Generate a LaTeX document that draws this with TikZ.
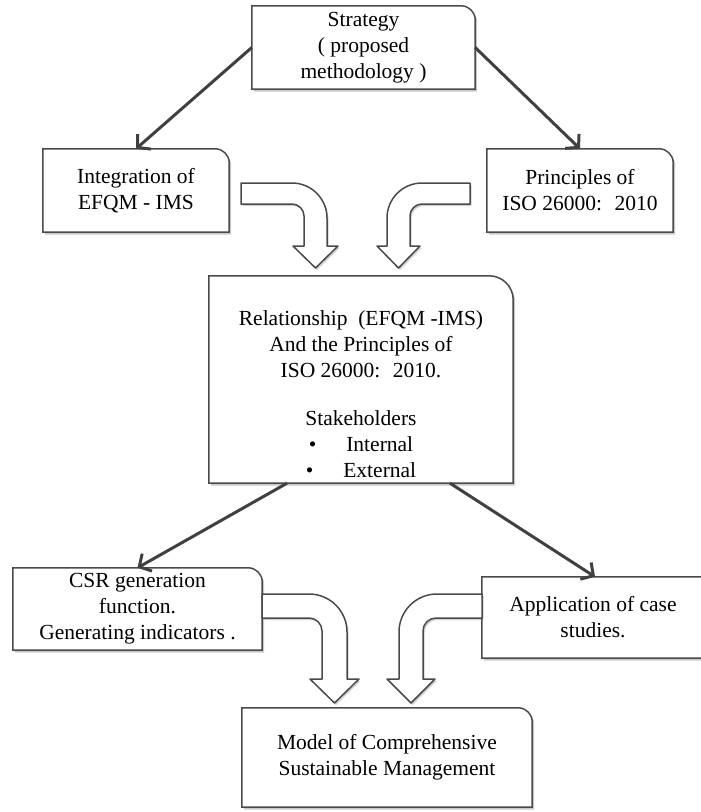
\documentclass[tikz,border=0pt]{standalone}
\usepackage{fontspec}
\setmainfont{Liberation Serif}
\usetikzlibrary{arrows.meta,shadows,backgrounds,calc}

\definecolor{linegray}{HTML}{404040}
\definecolor{edgegray}{HTML}{4A4A4A}

\tikzset{
  box/.style={inner sep=0pt, align=center, font=\fontsize{21.5}{26}\selectfont},
  boxline/.style={draw=edgegray, line width=1.5pt, fill=white,
    drop shadow={shadow xshift=2pt, shadow yshift=-2.5pt, opacity=0.35, fill=black!60}},
  flow/.style={draw=linegray, line width=3pt, -{Straight Barb[length=9pt,width=20pt]}},
  bendarrow/.style={draw=edgegray, line width=1.5pt, fill=white, line join=round,
    drop shadow={shadow xshift=1.5pt, shadow yshift=-2pt, opacity=0.3, fill=black!60}}
}

% outline with one rounded corner (top right)
\newcommand{\cornerbox}[2][14pt]{%
  \begin{pgfonlayer}{background}
  \draw[boxline] (#2.south west) -- (#2.north west) -- ([xshift=-#1]#2.north east)
    .. controls ([xshift=-0.45*#1]#2.north east) and ([yshift=-0.45*#1]#2.north east)
    .. ([yshift=-#1]#2.north east) -- (#2.south east) -- cycle;
  \end{pgfonlayer}}

\begin{document}
\begin{tikzpicture}[x=1pt,y=-1pt]
  \useasboundingbox (0,0) rectangle (701,812);

  \node[box, minimum width=223pt, minimum height=83pt] (strat) at (363.5,47.5) {Strategy\\( proposed\\methodology )};
  \node[box, minimum width=186pt, minimum height=83pt] (integ) at (136,190.5) {Integration of\\EFQM - IMS};
  \node[box, minimum width=186pt, minimum height=83pt] (princ) at (580,190.5) {Principles of\\ISO 26000:~ 2010};
  \node[box, minimum width=304pt, minimum height=207pt] (rel) at (361,379.5)
    {\rule{0pt}{44pt}Relationship~ (EFQM -IMS)\\And the Principles of\\ISO 26000:~ 2010.\\[22pt]Stakeholders\\•\hspace{30pt}Internal\\•\hspace{30pt}External};
  \node[box, minimum width=249pt, minimum height=82pt] (csr) at (137.5,609) {CSR generation\\function.\\Generating indicators .};
  \node[box, minimum width=240pt, minimum height=81pt] (app) at (602,617.5) {\hspace*{-18pt}Application of case\\\hspace*{-18pt}studies.};
  \node[box, minimum width=290pt, minimum height=99pt] (model) at (387,757.5) {Model of Comprehensive\\Sustainable Management};

  \cornerbox{strat}
  \cornerbox{integ}
  \cornerbox{princ}
  \cornerbox[24pt]{rel}
  \cornerbox{csr}
  \cornerbox{app}
  \cornerbox{model}

  \draw[flow] (strat.west) -- (integ.north);
  \draw[flow] (strat.east) -- (princ.north);
  \draw[flow] ([xshift=-74pt]rel.south) -- (csr.north);
  \draw[flow] ([xshift=89pt]rel.south) -- ([xshift=-7pt]app.north);

  % bent block arrows
  \draw[bendarrow] (241,183) -- (292,183) .. controls (311.3,183) and (327,198.7) .. (327,218) -- (327,246) -- (338,246) -- (315.5,268) -- (293,246) -- (304,246) -- (304,216) .. controls (304,209.4) and (298.6,204) .. (292,204) -- (241,204) -- cycle;
  \draw[bendarrow] (470,183) -- (422,183) .. controls (402.7,183) and (387,198.7) .. (387,218) -- (387,246) -- (377,246) -- (398.5,268) -- (420,246) -- (410,246) -- (410,216) .. controls (410,209.4) and (415.4,204) .. (422,204) -- (470,204) -- cycle;
  \draw[bendarrow] (262,594) -- (309,594) .. controls (330,594) and (347,611) .. (347,632) -- (347,679) -- (359,679) -- (334.5,703) -- (310,679) -- (322,679) -- (322,631) .. controls (322,623.8) and (316.2,618) .. (309,618) -- (262,618) -- cycle;
  \draw[bendarrow] (482,594) -- (437,594) .. controls (416,594) and (399,611) .. (399,632) -- (399,679) -- (387,679) -- (411,703) -- (435,679) -- (423,679) -- (423,631) .. controls (423,623.8) and (428.8,618) .. (436,618) -- (482,618) -- cycle;
\end{tikzpicture}
\end{document}
